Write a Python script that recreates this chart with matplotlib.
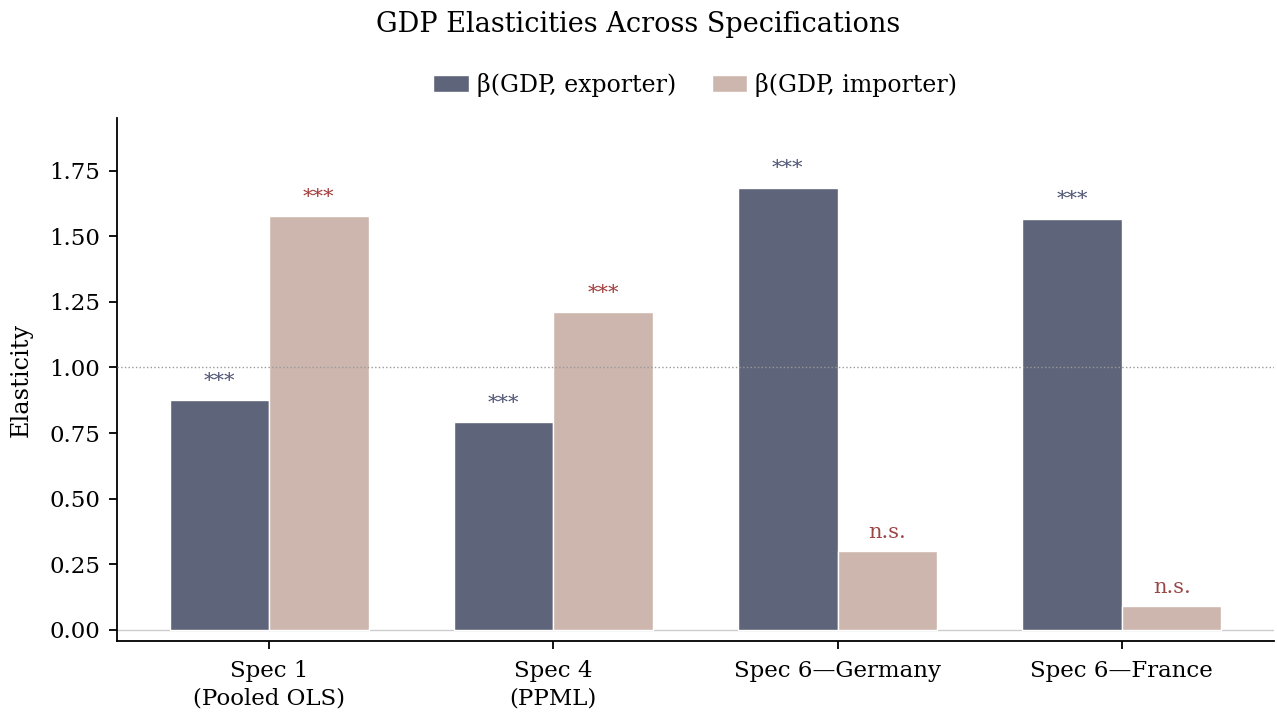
import numpy as np
import matplotlib
matplotlib.use("Agg")
import matplotlib.pyplot as plt

specs = ["Spec 1\n(Pooled OLS)", "Spec 4\n(PPML)", "Spec 6\u2014Germany", "Spec 6\u2014France"]
beta_exporter = [0.877, 0.793, 1.685, 1.567]
beta_importer = [1.575, 1.212, 0.301, 0.092]
sig_exporter = ["***", "***", "***", "***"]
sig_importer = ["***", "***", "n.s.", "n.s."]

plt.rcParams['font.family'] = ['DejaVu Serif']
plt.rcParams['font.size'] = 16.5

c_exp = '#5e6479'
c_imp = '#cdb6ae'
c_exp_txt = '#4d5474'
c_imp_txt = '#a23b3b'

fig = plt.figure(figsize=(12.77, 7.13), dpi=100)
ax = fig.add_axes([0.0916, 0.101, 0.906, 0.7335])

x = np.arange(len(specs))
w = 0.35
ax.bar(x - w/2, beta_exporter, w, color=c_exp, edgecolor='white', linewidth=1, label='\u03b2(GDP, exporter)', zorder=2)
ax.bar(x + w/2, beta_importer, w, color=c_imp, edgecolor='white', linewidth=1, label='\u03b2(GDP, importer)', zorder=2)

for xi, v, s in zip(x - w/2, beta_exporter, sig_exporter):
    ax.text(xi, v + 0.035, s, ha='center', va='bottom', color=c_exp_txt, fontsize=15)
for xi, v, s in zip(x + w/2, beta_importer, sig_importer):
    col = c_imp_txt if s == "***" else '#9a4646'
    ax.text(xi, v + 0.035, s, ha='center', va='bottom', color=col, fontsize=15)

ax.axhline(1.0, color='#999999', linestyle=':', linewidth=1, zorder=3)
ax.axhline(0.0, color='#cccccc', linewidth=1, zorder=1)

ax.set_ylim(-0.042, 1.95)
ax.set_yticks([0, 0.25, 0.5, 0.75, 1.0, 1.25, 1.5, 1.75])
ax.set_xticks(x)
ax.set_xticklabels(specs, linespacing=1.3)
ax.set_ylabel('Elasticity', fontsize=17.3, labelpad=12)
for sp in ['top', 'right']:
    ax.spines[sp].set_visible(False)
ax.spines['left'].set_linewidth(1.3)
ax.spines['bottom'].set_linewidth(1.3)
ax.tick_params(width=1.3, length=6)
ax.tick_params(axis='x', pad=8)
ax.tick_params(axis='y', pad=6)

ax.legend(loc='lower center', bbox_to_anchor=(0.5, 1.0), ncol=2, frameon=False, fontsize=17,
          handlelength=1.5, columnspacing=1.5, handletextpad=0.35)
fig.suptitle('GDP Elasticities Across Specifications', fontsize=19.5, y=0.985)

fig.savefig('out.png', dpi=100)
